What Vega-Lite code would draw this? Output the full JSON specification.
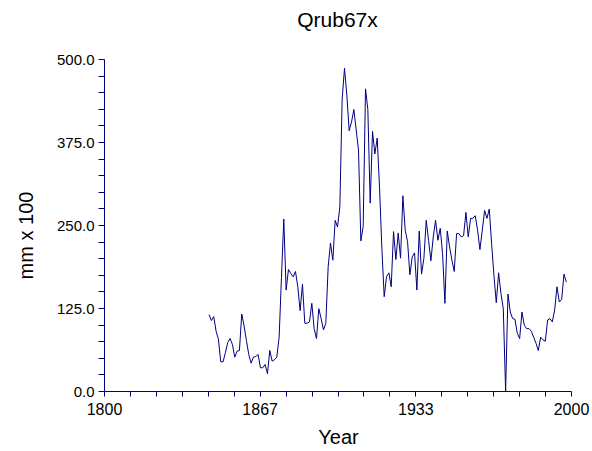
{
  "$schema": "https://vega.github.io/schema/vega-lite/v6.json",
  "autosize": "none",
  "width": 467,
  "height": 332,
  "padding": {"left": 104, "top": 59, "right": 21, "bottom": 60},
  "background": "white",
  "title": {"text": "Qrub67x", "fontSize": 21, "font": "Liberation Sans", "fontWeight": "normal", "color": "black", "anchor": "middle", "offset": 21},
  "config": {"view": {"stroke": null}},
  "data": {"values": [
    {"Year": 1845, "v": 115}, {"Year": 1846, "v": 106}, {"Year": 1847, "v": 112}, {"Year": 1848, "v": 90}, {"Year": 1849, "v": 78},
    {"Year": 1850, "v": 44}, {"Year": 1851, "v": 44}, {"Year": 1852, "v": 58}, {"Year": 1853, "v": 73}, {"Year": 1854, "v": 79},
    {"Year": 1855, "v": 70}, {"Year": 1856, "v": 51}, {"Year": 1857, "v": 60}, {"Year": 1858, "v": 61}, {"Year": 1859, "v": 116},
    {"Year": 1860, "v": 98}, {"Year": 1861, "v": 76}, {"Year": 1862, "v": 55}, {"Year": 1863, "v": 42}, {"Year": 1864, "v": 51},
    {"Year": 1865, "v": 52}, {"Year": 1866, "v": 55}, {"Year": 1867, "v": 35}, {"Year": 1868, "v": 35}, {"Year": 1869, "v": 40},
    {"Year": 1870, "v": 26}, {"Year": 1871, "v": 61}, {"Year": 1872, "v": 45}, {"Year": 1873, "v": 47}, {"Year": 1874, "v": 51},
    {"Year": 1875, "v": 81}, {"Year": 1876, "v": 171}, {"Year": 1877, "v": 259}, {"Year": 1878, "v": 152}, {"Year": 1879, "v": 183},
    {"Year": 1880, "v": 177}, {"Year": 1881, "v": 172}, {"Year": 1882, "v": 180}, {"Year": 1883, "v": 157}, {"Year": 1884, "v": 121},
    {"Year": 1885, "v": 161}, {"Year": 1886, "v": 102}, {"Year": 1887, "v": 102}, {"Year": 1888, "v": 104}, {"Year": 1889, "v": 132},
    {"Year": 1890, "v": 94}, {"Year": 1891, "v": 79}, {"Year": 1892, "v": 124}, {"Year": 1893, "v": 109}, {"Year": 1894, "v": 92},
    {"Year": 1895, "v": 102}, {"Year": 1896, "v": 187}, {"Year": 1897, "v": 223}, {"Year": 1898, "v": 197}, {"Year": 1899, "v": 257},
    {"Year": 1900, "v": 247}, {"Year": 1901, "v": 277}, {"Year": 1902, "v": 440}, {"Year": 1903, "v": 486}, {"Year": 1904, "v": 446},
    {"Year": 1905, "v": 392}, {"Year": 1906, "v": 405}, {"Year": 1907, "v": 424}, {"Year": 1908, "v": 393}, {"Year": 1909, "v": 363},
    {"Year": 1910, "v": 226}, {"Year": 1911, "v": 248}, {"Year": 1912, "v": 455}, {"Year": 1913, "v": 424}, {"Year": 1914, "v": 283},
    {"Year": 1915, "v": 391}, {"Year": 1916, "v": 357}, {"Year": 1917, "v": 381}, {"Year": 1918, "v": 307}, {"Year": 1919, "v": 215},
    {"Year": 1920, "v": 142}, {"Year": 1921, "v": 172}, {"Year": 1922, "v": 178}, {"Year": 1923, "v": 157}, {"Year": 1924, "v": 240},
    {"Year": 1925, "v": 198}, {"Year": 1926, "v": 238}, {"Year": 1927, "v": 200}, {"Year": 1928, "v": 294}, {"Year": 1929, "v": 242},
    {"Year": 1930, "v": 225}, {"Year": 1931, "v": 175}, {"Year": 1932, "v": 202}, {"Year": 1933, "v": 208}, {"Year": 1934, "v": 152},
    {"Year": 1935, "v": 241}, {"Year": 1936, "v": 176}, {"Year": 1937, "v": 200}, {"Year": 1938, "v": 257}, {"Year": 1939, "v": 227},
    {"Year": 1940, "v": 196}, {"Year": 1941, "v": 232}, {"Year": 1942, "v": 257}, {"Year": 1943, "v": 227}, {"Year": 1944, "v": 245},
    {"Year": 1945, "v": 207}, {"Year": 1946, "v": 132}, {"Year": 1947, "v": 241}, {"Year": 1948, "v": 217}, {"Year": 1949, "v": 197},
    {"Year": 1950, "v": 180}, {"Year": 1951, "v": 237}, {"Year": 1952, "v": 237}, {"Year": 1953, "v": 232}, {"Year": 1954, "v": 234},
    {"Year": 1955, "v": 269}, {"Year": 1956, "v": 232}, {"Year": 1957, "v": 260}, {"Year": 1958, "v": 260}, {"Year": 1959, "v": 264},
    {"Year": 1960, "v": 242}, {"Year": 1961, "v": 213}, {"Year": 1962, "v": 242}, {"Year": 1963, "v": 272}, {"Year": 1964, "v": 260},
    {"Year": 1965, "v": 274}, {"Year": 1966, "v": 222}, {"Year": 1967, "v": 174}, {"Year": 1968, "v": 133}, {"Year": 1969, "v": 178},
    {"Year": 1970, "v": 147}, {"Year": 1971, "v": 124}, {"Year": 1972, "v": 0}, {"Year": 1973, "v": 146}, {"Year": 1974, "v": 119},
    {"Year": 1975, "v": 109}, {"Year": 1976, "v": 108}, {"Year": 1977, "v": 87}, {"Year": 1978, "v": 79}, {"Year": 1979, "v": 119},
    {"Year": 1980, "v": 99}, {"Year": 1981, "v": 94}, {"Year": 1982, "v": 94}, {"Year": 1983, "v": 90}, {"Year": 1984, "v": 81},
    {"Year": 1985, "v": 72}, {"Year": 1986, "v": 61}, {"Year": 1987, "v": 81}, {"Year": 1988, "v": 77}, {"Year": 1989, "v": 75},
    {"Year": 1990, "v": 107}, {"Year": 1991, "v": 109}, {"Year": 1992, "v": 104}, {"Year": 1993, "v": 122}, {"Year": 1994, "v": 157},
    {"Year": 1995, "v": 134}, {"Year": 1996, "v": 138}, {"Year": 1997, "v": 176}, {"Year": 1998, "v": 164}
  ]},
  "mark": {"type": "line", "color": "#000080", "strokeWidth": 1},
  "encoding": {
    "x": {
      "field": "Year", "type": "quantitative",
      "scale": {"domain": [1800, 2000], "nice": false, "zero": false},
      "axis": {
        "title": "Year",
        "values": [1800, 1811.1111, 1822.2222, 1833.3333, 1844.4444, 1855.5556, 1866.6667, 1877.7778, 1888.8889, 1900, 1911.1111, 1922.2222, 1933.3333, 1944.4444, 1955.5556, 1966.6667, 1977.7778, 1988.8889, 2000],
        "labelExpr": "round((datum.value-1800)/(200/18)) % 6 == 0 ? format(datum.value, '.0f') : ''",
        "grid": false,
        "domainColor": "#000080", "tickColor": "#000080", "tickSize": 5,
        "labelFont": "Liberation Sans", "labelFontSize": 16, "labelColor": "black",
        "labelFlush": false, "labelOverlap": false, "labelBound": false, "labelPadding": 5,
        "titleFont": "Liberation Sans", "titleFontSize": 20, "titleFontWeight": "normal", "titleColor": "black",
        "titleX": 234, "titleY": 52, "titleBaseline": "alphabetic", "titleAlign": "center"
      }
    },
    "y": {
      "field": "v", "type": "quantitative",
      "scale": {"domain": [0, 500], "nice": false},
      "axis": {
        "title": "mm x 100",
        "values": [0, 25, 50, 75, 100, 125, 150, 175, 200, 225, 250, 275, 300, 325, 350, 375, 400, 425, 450, 475, 500],
        "labelExpr": "datum.value % 125 == 0 ? format(datum.value, '.1f') : ''",
        "grid": false,
        "domainColor": "#000080", "tickColor": "#000080", "tickSize": 6,
        "labelFont": "Liberation Sans", "labelFontSize": 15, "labelColor": "black",
        "labelFlush": false, "labelOverlap": false, "labelBound": false, "labelPadding": 4,
        "titleFont": "Liberation Sans", "titleFontSize": 20, "titleFontWeight": "normal", "titleColor": "black",
        "titleX": -72, "titleY": 176, "titleBaseline": "alphabetic", "titleAlign": "center", "titleAngle": -90
      }
    }
  }
}
